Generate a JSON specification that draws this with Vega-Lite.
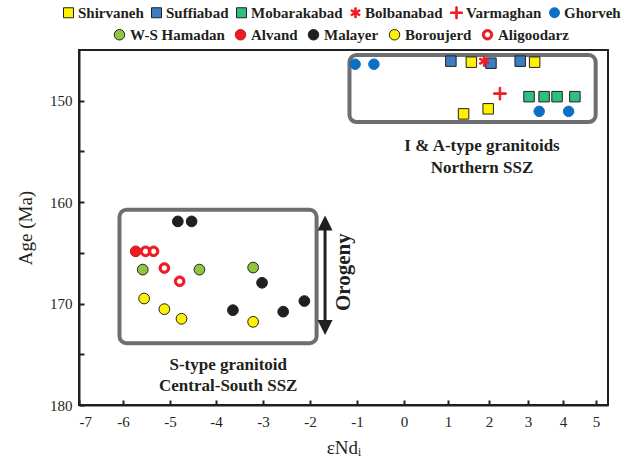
{
  "$schema": "https://vega.github.io/schema/vega-lite/v6.json",
  "width": 529,
  "height": 355,
  "autosize": "none",
  "padding": {"left": 79, "top": 50, "right": 22, "bottom": 58},
  "background": "white",
  "config": {
    "view": {"stroke": "#231f20", "strokeWidth": 2},
    "axis": {
      "grid": false,
      "domainColor": "#231f20",
      "domainWidth": 2,
      "tickColor": "#231f20",
      "tickWidth": 2,
      "tickSize": 5,
      "labelFont": "Liberation Serif",
      "labelFontSize": 15,
      "labelColor": "#231f20",
      "titleFont": "Liberation Serif",
      "titleFontWeight": "normal",
      "titleFontSize": 19,
      "titleColor": "#231f20"
    },
    "legend": {
      "labelFont": "Liberation Serif",
      "labelFontWeight": "bold",
      "labelFontSize": 15,
      "labelColor": "#231f20",
      "padding": 0
    },
    "text": {"font": "Liberation Serif", "color": "#231f20"}
  },
  "datasets": {
    "boxes": [
      {"x1": -1.16, "x2": 4.99, "a1": 145.5, "a2": 152.1},
      {"x1": -6.08, "x2": -1.86, "a1": 160.75, "a2": 173.9}
    ],
    "north": [
      {"site": "Ghorveh", "e": -1.04, "age": 146.4},
      {"site": "Ghorveh", "e": -0.64, "age": 146.4},
      {"site": "Ghorveh", "e": 3.32, "age": 151.05},
      {"site": "Ghorveh", "e": 4.17, "age": 151.05},
      {"site": "Suffiabad", "e": 1.07, "age": 146.1},
      {"site": "Suffiabad", "e": 2.05, "age": 146.3},
      {"site": "Suffiabad", "e": 2.8, "age": 146.1},
      {"site": "Shirvaneh", "e": 1.57, "age": 146.2},
      {"site": "Shirvaneh", "e": 3.19, "age": 146.2},
      {"site": "Shirvaneh", "e": 1.38, "age": 151.3},
      {"site": "Shirvaneh", "e": 1.98, "age": 150.8},
      {"site": "Bolbanabad", "e": 1.88, "age": 146.1},
      {"site": "Varmaghan", "e": 2.28, "age": 149.3},
      {"site": "Mobarakabad", "e": 3.03, "age": 149.6},
      {"site": "Mobarakabad", "e": 3.46, "age": 149.6},
      {"site": "Mobarakabad", "e": 3.83, "age": 149.6},
      {"site": "Mobarakabad", "e": 4.36, "age": 149.6}
    ],
    "south": [
      {"site": "Malayer", "e": -4.83, "age": 161.9},
      {"site": "Malayer", "e": -4.53, "age": 161.9},
      {"site": "Malayer", "e": -3.02, "age": 167.95},
      {"site": "Malayer", "e": -3.64, "age": 170.65},
      {"site": "Malayer", "e": -2.57, "age": 170.8},
      {"site": "Malayer", "e": -2.12, "age": 169.75},
      {"site": "Alvand", "e": -5.73, "age": 164.85},
      {"site": "Aligoodarz", "e": -5.52, "age": 164.85},
      {"site": "Aligoodarz", "e": -5.35, "age": 164.85},
      {"site": "Aligoodarz", "e": -5.12, "age": 166.5},
      {"site": "Aligoodarz", "e": -4.79, "age": 167.8},
      {"site": "W-S Hamadan", "e": -5.58, "age": 166.65},
      {"site": "W-S Hamadan", "e": -4.36, "age": 166.65},
      {"site": "W-S Hamadan", "e": -3.21, "age": 166.45},
      {"site": "Boroujerd", "e": -5.55, "age": 169.5},
      {"site": "Boroujerd", "e": -5.12, "age": 170.55},
      {"site": "Boroujerd", "e": -4.75, "age": 171.5},
      {"site": "Boroujerd", "e": -3.21, "age": 171.8}
    ],
    "orogeny": [
      {"e": -1.68, "from": 162.05, "to": 172.37}
    ],
    "orogenyLabel": [
      {"e": -1.28, "age": 166.9, "label": "Orogeny"}
    ],
    "labels": [
      {"e": 1.83, "age": 154.5, "label": "I & A-type granitoids"},
      {"e": 1.83, "age": 156.6, "label": "Northern SSZ"},
      {"e": -3.74, "age": 176.05, "label": "S-type granitoid"},
      {"e": -3.74, "age": 178.1, "label": "Central-South SSZ"}
    ]
  },
  "resolve": {
    "scale": {"shape": "independent", "fill": "independent", "stroke": "independent"},
    "legend": {"shape": "independent", "fill": "independent", "stroke": "independent"},
    "axis": {"x": "independent", "y": "independent"}
  },
  "layer": [
    {
      "data": {"name": "boxes"},
      "mark": {"type": "rect", "fillOpacity": 0, "stroke": "#6d6e71", "strokeWidth": 4, "cornerRadius": 7},
      "encoding": {
        "x": {
          "field": "x1", "type": "quantitative", "title": "εNdᵢ",
          "scale": {
            "domain": [-7, -6, -5, -4, -3, -2, -1, 0, 1, 2, 3, 4, 5, 5.36],
            "range": [0, 44, 91, 137, 184, 231, 278, 325, 369, 410, 449, 484, 517, 529],
            "zero": false, "nice": false
          },
          "axis": {"values": [-7, -6, -5, -4, -3, -2, -1, 0, 1, 2, 3, 4, 5], "ticks": false, "labelPadding": 9, "titlePadding": 9,
            "labelExpr": "datum.value < 0 ? '-' + abs(datum.value) : '' + datum.value"}
        },
        "x2": {"field": "x2"},
        "y": {
          "field": "a1", "type": "quantitative", "title": "Age (Ma)",
          "scale": {"domain": [145, 180], "reverse": true, "zero": false, "nice": false},
          "axis": {"values": [150, 160, 170, 180], "ticks": false, "labelPadding": 7, "titlePadding": 14}
        },
        "y2": {"field": "a2"}
      }
    },
    {
      "data": {"name": "orogeny"},
      "mark": {"type": "rule", "strokeWidth": 3, "color": "#231f20"},
      "encoding": {
        "x": {"field": "e", "type": "quantitative", "title": "εNdᵢ",
          "axis": {"orient": "top", "offset": -355, "values": [-7, -6, -5, -4, -3, -2, -1, 0, 1, 2, 3, 4, 5], "labels": false, "domain": false, "title": null, "ticks": true}},
        "y": {"field": "from", "type": "quantitative", "title": "Age (Ma)",
          "axis": {"orient": "right", "offset": -529, "values": [150, 155, 160, 165, 170, 175, 180], "labels": false, "domain": false, "title": null, "ticks": true}},
        "y2": {"field": "to"}
      }
    },
    {
      "data": {"name": "orogeny"},
      "mark": {"type": "point", "shape": "M0,-1L1,1L-1,1Z", "filled": true, "opacity": 1, "color": "#231f20", "size": 225},
      "encoding": {
        "x": {"field": "e", "type": "quantitative", "axis": null},
        "y": {"field": "from", "type": "quantitative", "axis": null}
      }
    },
    {
      "data": {"name": "orogeny"},
      "mark": {"type": "point", "shape": "M0,1L1,-1L-1,-1Z", "filled": true, "opacity": 1, "color": "#231f20", "size": 225},
      "encoding": {
        "x": {"field": "e", "type": "quantitative", "axis": null},
        "y": {"field": "to", "type": "quantitative", "axis": null}
      }
    },
    {
      "data": {"name": "orogenyLabel"},
      "mark": {"type": "text", "angle": 270, "fontSize": 21, "fontWeight": "bold", "align": "center", "baseline": "middle"},
      "encoding": {
        "x": {"field": "e", "type": "quantitative", "axis": null},
        "y": {"field": "age", "type": "quantitative", "axis": null},
        "text": {"field": "label"}
      }
    },
    {
      "data": {"name": "labels"},
      "mark": {"type": "text", "fontSize": 17, "fontWeight": "bold", "align": "center", "baseline": "middle"},
      "encoding": {
        "x": {"field": "e", "type": "quantitative", "axis": null},
        "y": {"field": "age", "type": "quantitative", "axis": null},
        "text": {"field": "label"}
      }
    },
    {
      "data": {"name": "north"},
      "mark": {"type": "point", "filled": true, "opacity": 1, "size": 110, "strokeWidth": 1},
      "encoding": {
        "x": {"field": "e", "type": "quantitative", "axis": null},
        "y": {"field": "age", "type": "quantitative", "axis": null},
        "shape": {
          "field": "site", "type": "nominal",
          "scale": {
            "domain": ["Shirvaneh", "Suffiabad", "Mobarakabad", "Bolbanabad", "Varmaghan", "Ghorveh"],
            "range": ["square", "square", "square",
              "M-0.15,-1L0.15,-1L0.15,1L-0.15,1ZM0.791,-0.63L0.941,-0.37L-0.791,0.63L-0.941,0.37ZM-0.941,-0.37L-0.791,-0.63L0.941,0.37L0.791,0.63Z",
              "M-1.2,-0.15L-0.15,-0.15L-0.15,-1.2L0.15,-1.2L0.15,-0.15L1.2,-0.15L1.2,0.15L0.15,0.15L0.15,1.2L-0.15,1.2L-0.15,0.15L-1.2,0.15Z",
              "circle"]
          },
          "legend": {"orient": "none", "legendX": -18, "legendY": -45, "direction": "horizontal", "columns": 6, "title": null, "columnPadding": 5, "labelOffset": 2, "symbolSize": 100, "symbolStrokeWidth": 1}
        },
        "fill": {
          "field": "site", "type": "nominal",
          "scale": {
            "domain": ["Shirvaneh", "Suffiabad", "Mobarakabad", "Bolbanabad", "Varmaghan", "Ghorveh"],
            "range": ["#fff200", "#3a7fc1", "#2fbf7f", "#ed1c24", "#ed1c24", "#0b6fc6"]
          },
          "legend": {"orient": "none", "legendX": -18, "legendY": -45, "direction": "horizontal", "columns": 6, "title": null, "columnPadding": 5, "labelOffset": 2, "symbolSize": 100, "symbolStrokeWidth": 1}
        },
        "stroke": {
          "field": "site", "type": "nominal",
          "scale": {
            "domain": ["Shirvaneh", "Suffiabad", "Mobarakabad", "Bolbanabad", "Varmaghan", "Ghorveh"],
            "range": ["#231f20", "#231f20", "#231f20", "#ed1c24", "#ed1c24", "#0b6fc6"]
          },
          "legend": {"orient": "none", "legendX": -18, "legendY": -45, "direction": "horizontal", "columns": 6, "title": null, "columnPadding": 5, "labelOffset": 2, "symbolSize": 100, "symbolStrokeWidth": 1}
        }
      }
    },
    {
      "data": {"name": "south"},
      "mark": {"type": "point", "filled": true, "opacity": 1, "size": 115, "strokeWidth": 1},
      "encoding": {
        "x": {"field": "e", "type": "quantitative", "axis": null},
        "y": {"field": "age", "type": "quantitative", "axis": null},
        "shape": {
          "field": "site", "type": "nominal",
          "scale": {
            "domain": ["W-S Hamadan", "Alvand", "Malayer", "Boroujerd", "Aligoodarz"],
            "range": ["circle", "circle", "circle", "circle",
              "M1,0C1,0.5523,0.5523,1,0,1C-0.5523,1,-1,0.5523,-1,0C-1,-0.5523,-0.5523,-1,0,-1C0.5523,-1,1,-0.5523,1,0ZM0.58,0C0.58,-0.3203,0.3203,-0.58,0,-0.58C-0.3203,-0.58,-0.58,-0.3203,-0.58,0C-0.58,0.3203,-0.3203,0.58,0,0.58C0.3203,0.58,0.58,0.3203,0.58,0Z"]
          },
          "legend": {"orient": "none", "legendX": 33, "legendY": -23, "direction": "horizontal", "columns": 5, "title": null, "columnPadding": 8, "labelOffset": 3, "symbolSize": 110, "symbolStrokeWidth": 1}
        },
        "fill": {
          "field": "site", "type": "nominal",
          "scale": {
            "domain": ["W-S Hamadan", "Alvand", "Malayer", "Boroujerd", "Aligoodarz"],
            "range": ["#8dc63f", "#ed1c24", "#231f20", "#fff200", "#ed1c24"]
          },
          "legend": {"orient": "none", "legendX": 33, "legendY": -23, "direction": "horizontal", "columns": 5, "title": null, "columnPadding": 8, "labelOffset": 3, "symbolSize": 110, "symbolStrokeWidth": 1}
        },
        "stroke": {
          "field": "site", "type": "nominal",
          "scale": {
            "domain": ["W-S Hamadan", "Alvand", "Malayer", "Boroujerd", "Aligoodarz"],
            "range": ["#231f20", "#c4161c", "#231f20", "#231f20", "#ed1c24"]
          },
          "legend": {"orient": "none", "legendX": 33, "legendY": -23, "direction": "horizontal", "columns": 5, "title": null, "columnPadding": 8, "labelOffset": 3, "symbolSize": 110, "symbolStrokeWidth": 1}
        }
      }
    }
  ]
}
